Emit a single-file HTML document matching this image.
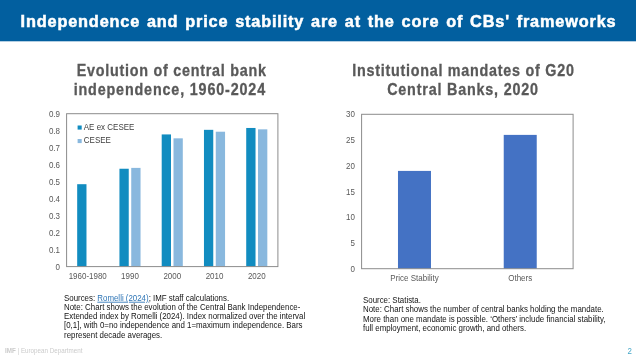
<!DOCTYPE html>
<html><head><meta charset="utf-8"><style>
html,body{margin:0;padding:0;background:#fff;width:636px;height:357px;overflow:hidden}
svg{will-change:transform}
</style></head><body>
<svg width="636" height="357" viewBox="0 0 636 357" style="display:block">
<rect x="0" y="0" width="636" height="357" fill="#ffffff"/>
<rect x="0" y="0" width="636" height="41.3" fill="#025f9f"/>
<text transform="translate(20.6 27.2) scale(1.032 1)" x="0" y="0" font-family="'Liberation Sans', sans-serif" font-weight="bold" font-size="15.8" letter-spacing="0.8" word-spacing="1.45" fill="#ffffff" stroke="#ffffff" stroke-width="0.5">Independence and price stability are at the core of CBs' frameworks</text>
<text transform="translate(171.70 75.70) scale(0.88 1)" x="0" y="0" font-family="'Liberation Sans', sans-serif" font-weight="bold" font-size="16.3" letter-spacing="0.85" fill="#595959" stroke="#595959" stroke-width="0.3" text-anchor="middle">Evolution of central bank</text>
<text transform="translate(169.80 94.90) scale(0.88 1)" x="0" y="0" font-family="'Liberation Sans', sans-serif" font-weight="bold" font-size="16.3" letter-spacing="0.96" fill="#595959" stroke="#595959" stroke-width="0.3" text-anchor="middle">independence, 1960-2024</text>
<text transform="translate(463.40 75.70) scale(0.88 1)" x="0" y="0" font-family="'Liberation Sans', sans-serif" font-weight="bold" font-size="16.3" letter-spacing="0.85" fill="#595959" stroke="#595959" stroke-width="0.3" text-anchor="middle">Institutional mandates of G20</text>
<text transform="translate(463.00 95.00) scale(0.88 1)" x="0" y="0" font-family="'Liberation Sans', sans-serif" font-weight="bold" font-size="16.3" letter-spacing="0.92" fill="#595959" stroke="#595959" stroke-width="0.3" text-anchor="middle">Central Banks, 2020</text>
<text transform="translate(60.00 269.75) scale(0.908 1)" x="0" y="0" font-family="'Liberation Sans', sans-serif" font-size="8.8" font-weight="normal" fill="#595959" text-anchor="end" >0</text>
<text transform="translate(60.00 252.76) scale(0.908 1)" x="0" y="0" font-family="'Liberation Sans', sans-serif" font-size="8.8" font-weight="normal" fill="#595959" text-anchor="end" >0.1</text>
<text transform="translate(60.00 235.77) scale(0.908 1)" x="0" y="0" font-family="'Liberation Sans', sans-serif" font-size="8.8" font-weight="normal" fill="#595959" text-anchor="end" >0.2</text>
<text transform="translate(60.00 218.78) scale(0.908 1)" x="0" y="0" font-family="'Liberation Sans', sans-serif" font-size="8.8" font-weight="normal" fill="#595959" text-anchor="end" >0.3</text>
<text transform="translate(60.00 201.79) scale(0.908 1)" x="0" y="0" font-family="'Liberation Sans', sans-serif" font-size="8.8" font-weight="normal" fill="#595959" text-anchor="end" >0.4</text>
<text transform="translate(60.00 184.81) scale(0.908 1)" x="0" y="0" font-family="'Liberation Sans', sans-serif" font-size="8.8" font-weight="normal" fill="#595959" text-anchor="end" >0.5</text>
<text transform="translate(60.00 167.82) scale(0.908 1)" x="0" y="0" font-family="'Liberation Sans', sans-serif" font-size="8.8" font-weight="normal" fill="#595959" text-anchor="end" >0.6</text>
<text transform="translate(60.00 150.83) scale(0.908 1)" x="0" y="0" font-family="'Liberation Sans', sans-serif" font-size="8.8" font-weight="normal" fill="#595959" text-anchor="end" >0.7</text>
<text transform="translate(60.00 133.84) scale(0.908 1)" x="0" y="0" font-family="'Liberation Sans', sans-serif" font-size="8.8" font-weight="normal" fill="#595959" text-anchor="end" >0.8</text>
<text transform="translate(60.00 116.85) scale(0.908 1)" x="0" y="0" font-family="'Liberation Sans', sans-serif" font-size="8.8" font-weight="normal" fill="#595959" text-anchor="end" >0.9</text>
<rect x="77.18" y="184.20" width="9.3" height="82.40" fill="#118cc0"/>
<text transform="translate(87.73 279.10) scale(0.908 1)" x="0" y="0" font-family="'Liberation Sans', sans-serif" font-size="8.8" font-weight="normal" fill="#595959" text-anchor="middle" >1960-1980</text>
<rect x="119.44" y="168.74" width="9.3" height="97.86" fill="#118cc0"/>
<rect x="131.24" y="167.89" width="9.3" height="98.71" fill="#89b8de"/>
<text transform="translate(129.99 279.10) scale(0.908 1)" x="0" y="0" font-family="'Liberation Sans', sans-serif" font-size="8.8" font-weight="normal" fill="#595959" text-anchor="middle" >1990</text>
<rect x="161.70" y="134.43" width="9.3" height="132.17" fill="#118cc0"/>
<rect x="173.50" y="138.33" width="9.3" height="128.27" fill="#89b8de"/>
<text transform="translate(172.25 279.10) scale(0.908 1)" x="0" y="0" font-family="'Liberation Sans', sans-serif" font-size="8.8" font-weight="normal" fill="#595959" text-anchor="middle" >2000</text>
<rect x="203.96" y="129.84" width="9.3" height="136.76" fill="#118cc0"/>
<rect x="215.76" y="131.71" width="9.3" height="134.89" fill="#89b8de"/>
<text transform="translate(214.51 279.10) scale(0.908 1)" x="0" y="0" font-family="'Liberation Sans', sans-serif" font-size="8.8" font-weight="normal" fill="#595959" text-anchor="middle" >2010</text>
<rect x="246.22" y="127.97" width="9.3" height="138.63" fill="#118cc0"/>
<rect x="258.02" y="129.33" width="9.3" height="137.27" fill="#89b8de"/>
<text transform="translate(256.77 279.10) scale(0.908 1)" x="0" y="0" font-family="'Liberation Sans', sans-serif" font-size="8.8" font-weight="normal" fill="#595959" text-anchor="middle" >2020</text>
<rect x="66.6" y="113.7" width="211.30" height="152.90" fill="none" stroke="#8c8c8c" stroke-width="1"/>
<rect x="77.6" y="125.5" width="4.1" height="4.1" fill="#118cc0"/>
<text transform="translate(83.80 130.00) scale(0.94 1)" x="0" y="0" font-family="'Liberation Sans', sans-serif" font-size="8.5" font-weight="normal" fill="#404040" text-anchor="start" >AE ex CESEE</text>
<rect x="77.6" y="139.0" width="4.1" height="4.1" fill="#89b8de"/>
<text transform="translate(83.80 143.40) scale(0.94 1)" x="0" y="0" font-family="'Liberation Sans', sans-serif" font-size="8.5" font-weight="normal" fill="#404040" text-anchor="start" >CESEE</text>
<text transform="translate(355.00 271.85) scale(0.908 1)" x="0" y="0" font-family="'Liberation Sans', sans-serif" font-size="8.8" font-weight="normal" fill="#595959" text-anchor="end" >0</text>
<text transform="translate(355.00 246.12) scale(0.908 1)" x="0" y="0" font-family="'Liberation Sans', sans-serif" font-size="8.8" font-weight="normal" fill="#595959" text-anchor="end" >5</text>
<text transform="translate(355.00 220.38) scale(0.908 1)" x="0" y="0" font-family="'Liberation Sans', sans-serif" font-size="8.8" font-weight="normal" fill="#595959" text-anchor="end" >10</text>
<text transform="translate(355.00 194.65) scale(0.908 1)" x="0" y="0" font-family="'Liberation Sans', sans-serif" font-size="8.8" font-weight="normal" fill="#595959" text-anchor="end" >15</text>
<text transform="translate(355.00 168.92) scale(0.908 1)" x="0" y="0" font-family="'Liberation Sans', sans-serif" font-size="8.8" font-weight="normal" fill="#595959" text-anchor="end" >20</text>
<text transform="translate(355.00 143.18) scale(0.908 1)" x="0" y="0" font-family="'Liberation Sans', sans-serif" font-size="8.8" font-weight="normal" fill="#595959" text-anchor="end" >25</text>
<text transform="translate(355.00 117.45) scale(0.908 1)" x="0" y="0" font-family="'Liberation Sans', sans-serif" font-size="8.8" font-weight="normal" fill="#595959" text-anchor="end" >30</text>
<rect x="397.98" y="170.91" width="33" height="97.79" fill="#4472c4"/>
<text transform="translate(414.48 281.00) scale(0.908 1)" x="0" y="0" font-family="'Liberation Sans', sans-serif" font-size="8.8" font-weight="normal" fill="#595959" text-anchor="middle" >Price Stability</text>
<rect x="503.73" y="134.89" width="33" height="133.81" fill="#4472c4"/>
<text transform="translate(520.23 281.00) scale(0.908 1)" x="0" y="0" font-family="'Liberation Sans', sans-serif" font-size="8.8" font-weight="normal" fill="#595959" text-anchor="middle" >Others</text>
<rect x="361.6" y="114.3" width="211.50" height="154.40" fill="none" stroke="#8c8c8c" stroke-width="1"/>
<text transform="translate(64.00 300.70) scale(0.908 1)" x="0" y="0" font-family="'Liberation Sans', sans-serif" font-size="8.7" font-weight="normal" fill="#141414" text-anchor="start" >Sources: <tspan fill="#2e75b6" text-decoration="underline">Romelli (2024)</tspan>; IMF staff calculations.</text>
<text transform="translate(64.00 309.95) scale(0.908 1)" x="0" y="0" font-family="'Liberation Sans', sans-serif" font-size="8.7" font-weight="normal" fill="#141414" text-anchor="start" >Note: Chart shows the evolution of the Central Bank Independence-</text>
<text transform="translate(64.00 319.20) scale(0.908 1)" x="0" y="0" font-family="'Liberation Sans', sans-serif" font-size="8.7" font-weight="normal" fill="#141414" text-anchor="start" >Extended index by Romelli (2024). Index normalized over the interval</text>
<text transform="translate(64.00 328.45) scale(0.908 1)" x="0" y="0" font-family="'Liberation Sans', sans-serif" font-size="8.7" font-weight="normal" fill="#141414" text-anchor="start" >[0,1], with 0=no independence and 1=maximum independence. Bars</text>
<text transform="translate(64.00 337.70) scale(0.908 1)" x="0" y="0" font-family="'Liberation Sans', sans-serif" font-size="8.7" font-weight="normal" fill="#141414" text-anchor="start" >represent decade averages.</text>
<text transform="translate(363.00 302.80) scale(0.908 1)" x="0" y="0" font-family="'Liberation Sans', sans-serif" font-size="8.7" font-weight="normal" fill="#141414" text-anchor="start" >Source: Statista.</text>
<text transform="translate(363.00 312.15) scale(0.908 1)" x="0" y="0" font-family="'Liberation Sans', sans-serif" font-size="8.7" font-weight="normal" fill="#141414" text-anchor="start" >Note: Chart shows the number of central banks holding the mandate.</text>
<text transform="translate(363.00 321.50) scale(0.908 1)" x="0" y="0" font-family="'Liberation Sans', sans-serif" font-size="8.7" font-weight="normal" fill="#141414" text-anchor="start" >More than one mandate is possible. ‘Others’ include financial stability,</text>
<text transform="translate(363.00 330.85) scale(0.908 1)" x="0" y="0" font-family="'Liberation Sans', sans-serif" font-size="8.7" font-weight="normal" fill="#141414" text-anchor="start" >full employment, economic growth, and others.</text>
<text transform="translate(5.00 353.20) scale(0.95 1)" x="0" y="0" font-family="'Liberation Sans', sans-serif" font-size="6.6" font-weight="normal" fill="#cbcbcb" text-anchor="start" ><tspan font-weight="bold">IMF</tspan> | European Department</text>
<text transform="translate(627.50 354.00) scale(0.92 1)" x="0" y="0" font-family="'Liberation Sans', sans-serif" font-size="8.6" font-weight="normal" fill="#45a7c8" text-anchor="start" >2</text>
</svg>
</body></html>
